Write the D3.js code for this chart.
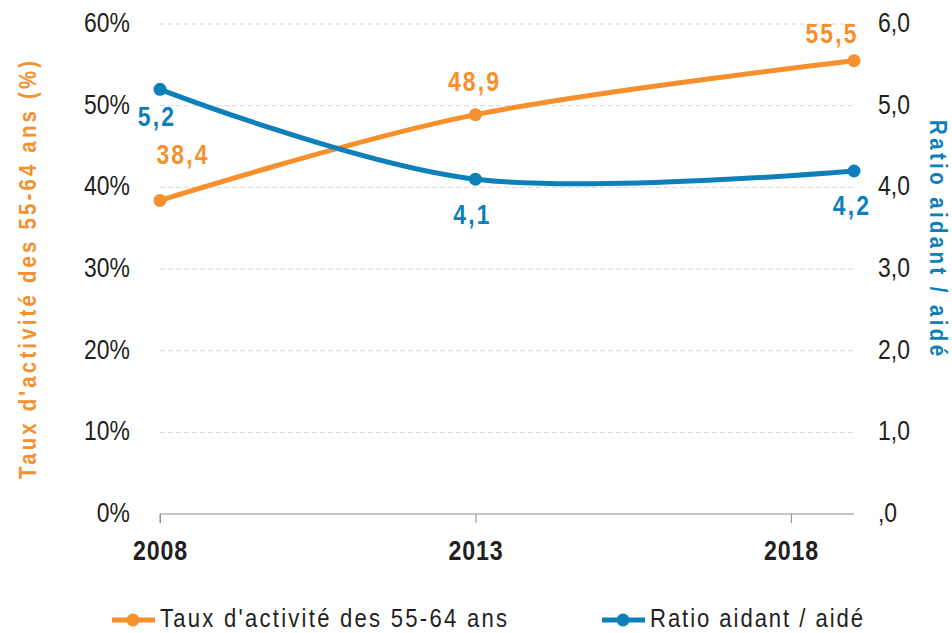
<!DOCTYPE html>
<html>
<head>
<meta charset="utf-8">
<script src="https://cdn.jsdelivr.net/npm/d3@7"></script>
<style>
  html, body { margin: 0; padding: 0; background: #fff; }
  svg { display: block; }
  text { font-family: "Liberation Sans Narrow", "Arial Narrow", "Liberation Sans", Arial, sans-serif; }
</style>
</head>
<body>
<svg id="chart" width="952" height="633"></svg>
<script>
// Years and values for the two series
const years = [2008, 2013, 2019];
const tickYears = [2008, 2013, 2018];
const tauxActivite = [38.4, 48.9, 55.5];   // % of 55-64 year-olds in work
const ratioAidant = [5.2, 4.1, 4.2];       // carers per dependent person
const leftTicks = [0, 10, 20, 30, 40, 50, 60];
const rightTicks = [0, 1, 2, 3, 4, 5, 6];

const orange = "#F5902C";
const blue = "#0E80B9";
const ink = "#231f20";

const svg = d3.select("#chart");
const W = 952, H = 633;
const margin = { top: 24, bottom: 119, left: 160, right: 98 };

const x = d3.scaleLinear().domain([2008, 2019]).range([margin.left, W - margin.right]);
const yL = d3.scaleLinear().domain([0, 60]).range([H - margin.bottom, margin.top]);
const yR = d3.scaleLinear().domain([0, 6]).range([H - margin.bottom, margin.top]);

const fmt = d => d3.format(".1f")(d).replace(".", ",");
const SX = 0.85; // horizontal squeeze for a narrow face

// Squeeze text horizontally around its anchor point
function condense(sel, sx) {
  sel.each(function () {
    const t = d3.select(this);
    const tx = +t.attr("x") || 0, ty = +t.attr("y") || 0;
    t.attr("x", 0).attr("y", 0)
     .attr("transform", `translate(${tx},${ty}) scale(${sx},1)`);
  });
}

// Dashed horizontal gridlines
svg.append("g").selectAll("line").data(leftTicks.filter(d => d > 0)).join("line")
  .attr("x1", x(2008)).attr("x2", x(2019))
  .attr("y1", d => yL(d)).attr("y2", d => yL(d))
  .attr("stroke", "#d6d6d6").attr("stroke-width", 1).attr("stroke-dasharray", "5,3");

// Bottom axis
const xAxis = d3.axisBottom(x).tickValues(tickYears).tickSize(9).tickFormat(d3.format("d"));
const gx = svg.append("g").attr("transform", `translate(0,${yL(0)})`).call(xAxis);
gx.select(".domain").attr("stroke", "#8c8c8c").attr("d", `M${x(2008)},9V0H${x(2019)}`);
gx.selectAll(".tick line").attr("stroke", "#8c8c8c");
gx.selectAll(".tick text").attr("font-size", 27).attr("font-weight", "bold")
  .attr("letter-spacing", 1).attr("fill", ink).attr("y", 46).attr("dy", null)
  .call(condense, 0.86);

// Left axis labels
const gl = svg.append("g").attr("transform", `translate(${margin.left},0)`)
  .call(d3.axisLeft(yL).tickValues(leftTicks).tickSize(0).tickPadding(30).tickFormat(d => d + "%"));
gl.select(".domain").remove();
gl.selectAll(".tick text").attr("font-size", 27).attr("fill", ink).attr("dy", "0.28em")
  .call(condense, SX);

// Right axis labels
const gr = svg.append("g").attr("transform", `translate(${W - margin.right},0)`)
  .call(d3.axisRight(yR).tickValues(rightTicks).tickSize(0).tickPadding(24)
    .tickFormat(d => d === 0 ? ",0" : fmt(d)));
gr.select(".domain").remove();
gr.selectAll(".tick text").attr("font-size", 27).attr("fill", ink).attr("dy", "0.28em")
  .call(condense, SX);

// Axis titles (letter-spaced, narrow)
svg.append("text")
  .attr("transform", `translate(36,270) rotate(-90) scale(${SX},1)`)
  .attr("text-anchor", "middle").attr("font-size", 24).attr("font-weight", "bold")
  .attr("textLength", 418 / SX).attr("lengthAdjust", "spacing")
  .attr("fill", orange)
  .text("Taux d'activité des 55-64 ans (%)");

svg.append("text")
  .attr("transform", `translate(930,238) rotate(90) scale(${SX},1)`)
  .attr("text-anchor", "middle").attr("font-size", 24).attr("font-weight", "bold")
  .attr("textLength", 236 / SX).attr("lengthAdjust", "spacing")
  .attr("fill", blue)
  .text("Ratio aidant / aidé");

// Series lines
const curve = d3.curveCatmullRom.alpha(0);
const lineL = d3.line().x((d, i) => x(years[i])).y(d => yL(d)).curve(curve);
const lineR = d3.line().x((d, i) => x(years[i])).y(d => yR(d)).curve(curve);

svg.append("path").datum(tauxActivite).attr("d", lineL)
  .attr("fill", "none").attr("stroke", orange).attr("stroke-width", 5).attr("stroke-linecap", "round");
svg.append("path").datum(ratioAidant).attr("d", lineR)
  .attr("fill", "none").attr("stroke", blue).attr("stroke-width", 5).attr("stroke-linecap", "round");

svg.append("g").selectAll("circle").data(tauxActivite).join("circle")
  .attr("cx", (d, i) => x(years[i])).attr("cy", d => yL(d)).attr("r", 6.5).attr("fill", orange);
svg.append("g").selectAll("circle").data(ratioAidant).join("circle")
  .attr("cx", (d, i) => x(years[i])).attr("cy", d => yR(d)).attr("r", 6.5).attr("fill", blue);

// Value labels
const labelOffsetsL = [[23, -36], [-1, -24], [-22, -18]];
const labelOffsetsR = [[-3, 37], [-3, 45], [-2, 44]];
svg.append("g").selectAll("text").data(tauxActivite).join("text")
  .attr("x", (d, i) => x(years[i]) + labelOffsetsL[i][0])
  .attr("y", (d, i) => yL(d) + labelOffsetsL[i][1])
  .attr("text-anchor", "middle").attr("font-size", 27).attr("font-weight", "bold")
  .attr("letter-spacing", 2.5).attr("fill", orange).text(d => fmt(d))
  .call(condense, SX);
svg.append("g").selectAll("text").data(ratioAidant).join("text")
  .attr("x", (d, i) => x(years[i]) + labelOffsetsR[i][0])
  .attr("y", (d, i) => yR(d) + labelOffsetsR[i][1])
  .attr("text-anchor", "middle").attr("font-size", 27).attr("font-weight", "bold")
  .attr("letter-spacing", 2.5).attr("fill", blue).text(d => fmt(d))
  .call(condense, SX);

// Legend
const legend = [
  { label: "Taux d'activité des 55-64 ans", color: orange, x: 112, len: 347 },
  { label: "Ratio aidant /  aidé", color: blue, x: 602, len: 213 }
];
const lg = svg.append("g").selectAll("g").data(legend).join("g")
  .attr("transform", d => `translate(${d.x},620)`);
lg.append("line").attr("x1", 0).attr("x2", 43).attr("stroke", d => d.color).attr("stroke-width", 5);
lg.append("circle").attr("cx", 21).attr("r", 6.5).attr("fill", d => d.color);
lg.append("text")
  .attr("transform", `translate(48,7) scale(${SX},1)`)
  .attr("font-size", 26)
  .attr("textLength", d => d.len / SX).attr("lengthAdjust", "spacing")
  .attr("fill", ink).text(d => d.label);
</script>
</body>
</html>
